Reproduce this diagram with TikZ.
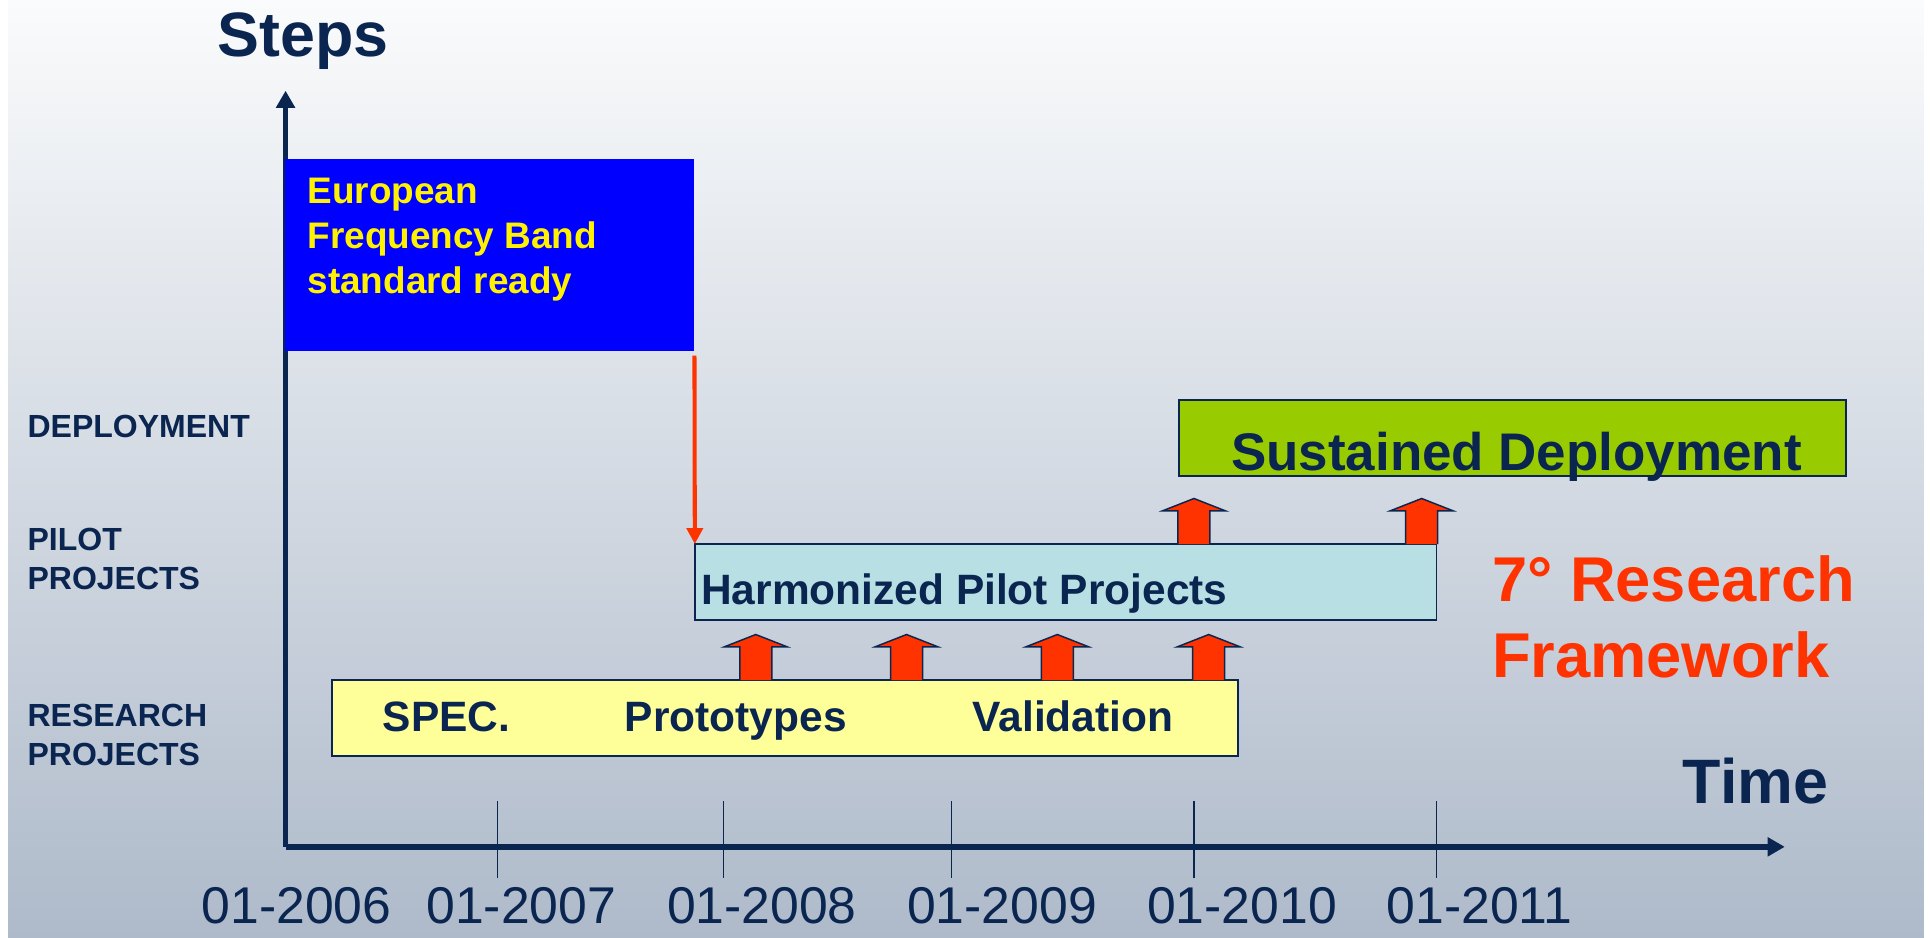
\documentclass[tikz,border=0pt]{standalone}
\usepackage{fontspec}
\setmainfont{Liberation Sans}
\usetikzlibrary{arrows.meta,%
		calc}

\definecolor{blunotte}{RGB}{10,38,80}
\definecolor{rossofreccia}{RGB}{255,51,0}
\definecolor{verdedeploy}{RGB}{153,204,0}
\definecolor{azzurropilota}{RGB}{184,224,228}
\definecolor{gialloricerca}{RGB}{255,255,153}
\definecolor{sfondoalto}{RGB}{250,251,252}
\definecolor{sfondobasso}{RGB}{174,186,202}

\begin{document}
\begin{tikzpicture}[x=1pt,y=-1pt,
	testo/.style={inner sep=0pt,text=blunotte},
	scatola/.style={rectangle,draw=blunotte,line width=1.5pt,inner sep=0pt,outer sep=0pt,anchor=north west},
	asse/.style={draw=blunotte,line width=4.7pt,-{Triangle[width=15pt,length=14pt]}},
	tacca/.style={draw=blunotte,line width=1.2pt},
	frecciona/.pic={\path[fill=rossofreccia,draw=blunotte,line width=1.2pt]
		(-13,0) -- (-13,-27) -- (-25.5,-27) -- (0,-37) -- (25.5,-27) -- (13,-27) -- (13,0);}]
%sfondo
\fill[white] (0,0) rectangle (1568,762);
\shade[top color=sfondoalto,bottom color=sfondobasso] (6.5,0) rectangle (1563,762);
%assi
\coordinate (O) at (232,688);
\coordinate (Ytop) at (232,73.7);
\coordinate (Xtop) at (1450,688);
\foreach \x in {404,588,773,970,1167}
	\draw[tacca] (\x,651) -- (\x,713);
\draw[asse] (O) -- (Ytop);
\draw[asse] (O) -- (Xtop);
\node[testo,font=\bfseries\fontsize{51}{60}\selectfont,anchor=base] (steps) at (246.5,46) {Steps};
\node[testo,font=\bfseries\fontsize{51}{60}\selectfont,anchor=base west] (time) at (1367,652.5) {Time};
\foreach \x/\anno in {241/2006,423.5/2007,619/2008,814/2009,1009/2010,1202/2011}
	\node[testo,font=\fontsize{42}{50}\selectfont,anchor=base] (anno\anno) at (\x,750) {01-\anno};
%livelli (base = ultima riga)
\node[testo,font=\bfseries\fontsize{26}{31.7}\selectfont,anchor=base west] (lvdeploy) at (22.2,355.3) {DEPLOYMENT};
\node[testo,font=\bfseries\fontsize{26}{31.7}\selectfont,anchor=base west,align=left] (lvpilot) at (22.2,478.8) {PILOT\\PROJECTS};
\node[testo,font=\bfseries\fontsize{26}{31.7}\selectfont,anchor=base west,align=left] (lvresearch) at (22.2,622.3) {RESEARCH\\PROJECTS};
%scatole
\node[scatola,draw=none,fill=blue,minimum width=332.6pt,minimum height=155.5pt] (blu) at (231.6,129.4) {};
\node[testo,text=yellow,font=\bfseries\fontsize{30}{36.5}\selectfont,anchor=base west,align=left] (standard) at (249.7,238.3) {European\\Frequency Band\\standard ready};
\node[scatola,fill=verdedeploy,minimum width=542pt,minimum height=62pt] (deploy) at (958,325) {};
\node[testo,font=\bfseries\fontsize{43}{50}\selectfont,anchor=base] (sustained) at (1232,382) {Sustained Deployment};
\node[scatola,fill=azzurropilota,minimum width=602.5pt,minimum height=62pt] (pilota) at (564.5,442) {};
\node[testo,font=\bfseries\fontsize{34.5}{40}\selectfont,anchor=base west] (harmonized) at (569.5,491.5) {Harmonized Pilot Projects};
\node[scatola,fill=gialloricerca,minimum width=736.5pt,minimum height=61.5pt] (ricerca) at (269.5,552.5) {};
\node[testo,font=\bfseries\fontsize{34.5}{40}\selectfont,anchor=base west] (spec) at (310.7,594.4) {SPEC.};
\node[testo,font=\bfseries\fontsize{34.5}{40}\selectfont,anchor=base west] (proto) at (507.5,594.4) {Prototypes};
\node[testo,font=\bfseries\fontsize{34.5}{40}\selectfont,anchor=base west] (valid) at (790,594.4) {Validation};
%frecce
\draw[rossofreccia,line width=3.3pt,-{Triangle[width=13pt,length=13pt]}] ([yshift=-4pt]blu.south east) -- (pilota.north west);
\foreach \x in {614,736.5,859,982}
	\pic at (\x,0 |- ricerca.north) {frecciona};
\foreach \x in {970,1155}
	\pic at (\x,0 |- pilota.north) {frecciona};
\node[testo,text=rossofreccia,font=\bfseries\fontsize{51.4}{62}\selectfont,anchor=base west,align=left] (framework) at (1212,550.8) {7° Research\\Framework};
\end{tikzpicture}
\end{document}
